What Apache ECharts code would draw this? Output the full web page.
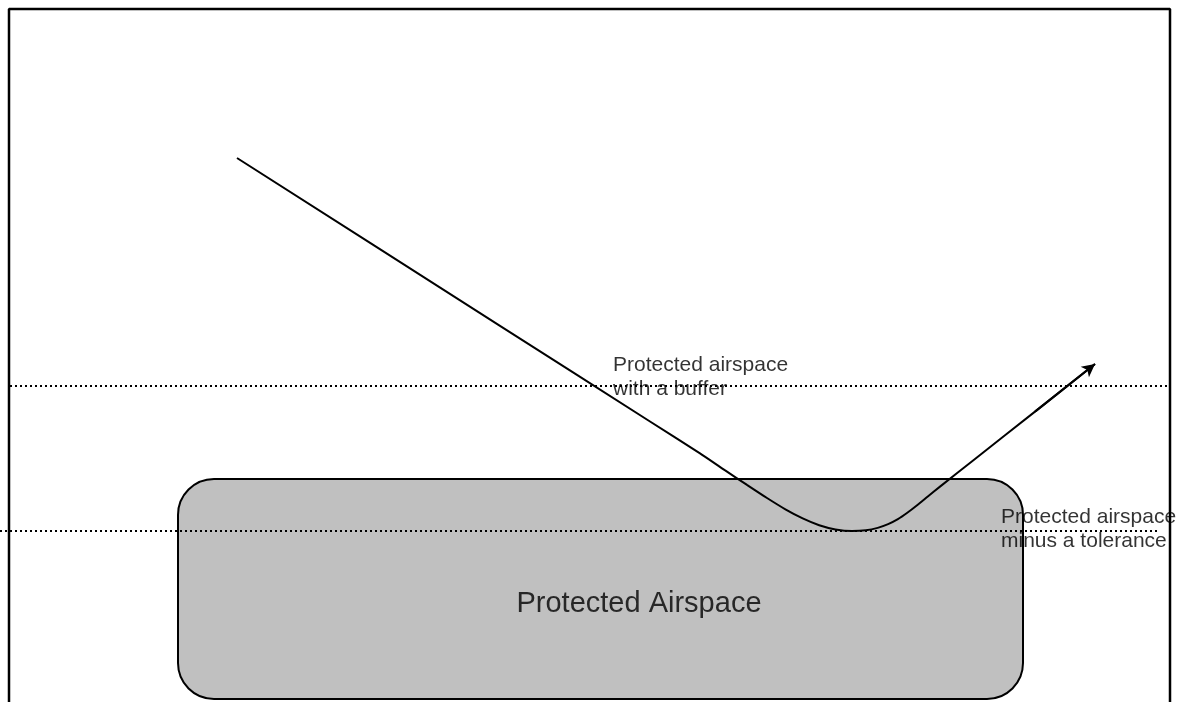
<!DOCTYPE html>
<html>
<head>
<meta charset="utf-8">
<script src="https://cdn.jsdelivr.net/npm/echarts@6/dist/echarts.min.js"></script>
<style>html,body{margin:0;padding:0;background:#fff;}#c{width:1180px;height:702px;}</style>
</head>
<body>
<div id="c"></div>
<script>
// Diagram coordinates (x to the right, y downwards)
var frame = [[9, 702], [9, 9], [1170, 9], [1170, 702]];
var bufferLine = [[10, 386], [1170, 386]];
var toleranceLine = [[0, 531], [1160, 531]];
var protectedBox = [[178, 479, 1023, 699]];
var flightPath = [
  [237, 158], [500, 325.8], [650, 421.5], [700, 453.4],
  [724.8, 470.2], [747, 484.9], [767, 498], [785.4, 509.3], [802.7, 518.4], [819.2, 525.2], [835.5, 529.4],
  [852, 531],
  [865.9, 530.3], [877.7, 527.9], [888.1, 524.2], [897.9, 519.2], [907.3, 512.8], [917.1, 505.3], [927.8, 496.5],
  [940, 486.6], [975, 459], [1035, 411.6], [1095, 364]
];
var arrowHead = [[1035, 411.6], [1095, 364]];
var smallLabels = [
  {value: [613, 353], text: 'Protected airspace\nwith a buffer'},
  {value: [1001, 505], text: 'Protected airspace\nminus a tolerance'}
];
var bigLabel = [{value: [639, 604], text: 'Protected Airspace'}];

var FONT = '"Liberation Sans", Arial, sans-serif';
var chart = echarts.init(document.getElementById('c'));
chart.setOption({
  animation: false,
  backgroundColor: '#fff',
  grid: {left: 0, right: 0, top: 0, bottom: 0},
  xAxis: {type: 'value', min: 0, max: 1180, show: false},
  yAxis: {type: 'value', min: 0, max: 702, inverse: true, show: false},
  series: [
    {
      type: 'custom', z: 1,
      data: protectedBox,
      renderItem: function (params, api) {
        var p0 = api.coord([api.value(0), api.value(1)]);
        var p1 = api.coord([api.value(2), api.value(3)]);
        return {
          type: 'rect',
          shape: {x: p0[0], y: p0[1], width: p1[0] - p0[0], height: p1[1] - p0[1], r: 36},
          style: {fill: '#c0c0c0', stroke: '#000', lineWidth: 2}
        };
      }
    },
    {type: 'line', z: 2, data: frame, symbol: 'none', lineStyle: {color: '#000', width: 2.5}},
    {type: 'line', z: 3, data: bufferLine, symbol: 'none', lineStyle: {color: '#000', width: 2, type: [2, 3]}},
    {type: 'line', z: 3, data: toleranceLine, symbol: 'none', lineStyle: {color: '#000', width: 2, type: [2, 3]}},
    {
      type: 'line', z: 4, data: flightPath, symbol: 'none', smooth: 0.2,
      lineStyle: {color: '#000', width: 2},
      markLine: {
        silent: true, animation: false,
        symbol: ['none', 'arrow'], symbolSize: [10, 13],
        label: {show: false},
        lineStyle: {color: '#000', width: 2, type: 'solid'},
        data: [[{coord: arrowHead[0]}, {coord: arrowHead[1]}]]
      }
    },
    {
      type: 'scatter', z: 5, symbolSize: 0,
      data: smallLabels,
      label: {
        show: true, position: 'inside', align: 'left', verticalAlign: 'top',
        formatter: function (p) { return p.data.text; },
        color: '#000', fontFamily: FONT, fontSize: 21, lineHeight: 24
      }
    },
    {
      type: 'scatter', z: 5, symbolSize: 0,
      data: bigLabel,
      label: {
        show: true, position: 'inside', align: 'center', verticalAlign: 'middle',
        formatter: function (p) { return p.data.text; },
        color: '#000', fontFamily: FONT, fontSize: 29
      }
    }
  ]
});
</script>
</body>
</html>
